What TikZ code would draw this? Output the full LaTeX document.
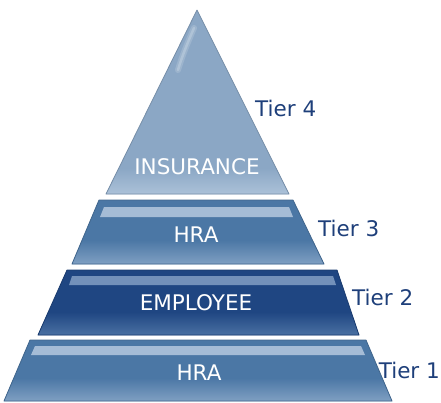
\documentclass[tikz,border=0pt]{standalone}
\usepackage{fontspec}
\setmainfont{DejaVu Sans}
\definecolor{labelnavy}{HTML}{1E3F7A}
\definecolor{topfill}{HTML}{8BA7C5}
\definecolor{toplight}{HTML}{ABC1D8}
\definecolor{midfill}{HTML}{4B77A5}
\definecolor{midlight}{HTML}{7F9FC2}
\definecolor{midstrip}{HTML}{A5BCD6}
\definecolor{darkfill}{HTML}{1F4682}
\definecolor{darklight}{HTML}{4A70A2}
\definecolor{darkstrip}{HTML}{7391BA}
\begin{document}
\begin{tikzpicture}[x=1pt,y=-1pt,
  tierlabel/.style={text=labelnavy, font=\fontsize{21.5}{25}\selectfont, inner sep=0pt, anchor=west},
  inlabel/.style={text=white, font=\fontsize{21.5}{25}\selectfont, inner sep=0pt},
  edge/.style={line width=0.8pt, line join=round}]
\useasboundingbox (0,0) rectangle (441,402);

% top tier: triangle
\fill[topfill] (197,10) -- (289,194) -- (106,194) -- cycle;
\begin{scope}
  \clip (197,10) -- (289,194) -- (106,194) -- cycle;
  \shade[top color=topfill, bottom color=toplight] (100,168) rectangle (300,194);
\end{scope}
\draw[edge, topfill!85!black] (197,10) -- (289,194) -- (106,194) -- cycle;
% soft glossy streak near the apex
\draw[white, opacity=0.15, line width=6pt, line cap=round] (194,28) .. controls (188,42) and (182,56) .. (178,70);
\draw[white, opacity=0.2, line width=2.5pt, line cap=round] (194,28) .. controls (188,42) and (182,56) .. (178,70);

% third tier
\fill[midfill] (99,200) -- (293,200) -- (324,264) -- (72,264) -- cycle;
\begin{scope}
  \clip (99,200) -- (293,200) -- (324,264) -- (72,264) -- cycle;
  \shade[top color=midfill, bottom color=midlight] (60,240) rectangle (330,264);
\end{scope}
\fill[midstrip] (104,207) -- (289,207) -- (293,217) -- (100,217) -- cycle;
\draw[edge, midfill!85!black] (99,200) -- (293,200) -- (324,264) -- (72,264) -- cycle;

% second tier
\fill[darkfill] (67,270) -- (337,270) -- (359,335) -- (38,335) -- cycle;
\begin{scope}
  \clip (67,270) -- (337,270) -- (359,335) -- (38,335) -- cycle;
  \shade[top color=darkfill, bottom color=darklight] (30,312) rectangle (365,335);
\end{scope}
\fill[darkstrip] (72,276) -- (333,276) -- (336,285) -- (69,285) -- cycle;
\draw[edge, darkfill!85!black] (67,270) -- (337,270) -- (359,335) -- (38,335) -- cycle;

% bottom tier
\fill[midfill] (30,340) -- (366,340) -- (392,401) -- (4,401) -- cycle;
\begin{scope}
  \clip (30,340) -- (366,340) -- (392,401) -- (4,401) -- cycle;
  \shade[top color=midfill, bottom color=midlight] (0,378) rectangle (400,401);
\end{scope}
\fill[midstrip] (35,346) -- (361,346) -- (365,355) -- (31,355) -- cycle;
\draw[edge, midfill!85!black] (30,340) -- (366,340) -- (392,401) -- (4,401) -- cycle;

% texts inside the tiers
\node[inlabel] (ins) at (197,167) {INSURANCE};
\node[inlabel] (hra3) at (196,235) {HRA};
\node[inlabel] (emp) at (196,303) {EMPLOYEE};
\node[inlabel] (hra1) at (199,373) {HRA};

% tier names
\node[tierlabel] (t4) at (255,108) {Tier 4};
\node[tierlabel] (t3) at (318,228) {Tier 3};
\node[tierlabel] (t2) at (352,297) {Tier 2};
\node[tierlabel, anchor=east] (t1) at (440,370) {Tier 1};
\end{tikzpicture}
\end{document}
